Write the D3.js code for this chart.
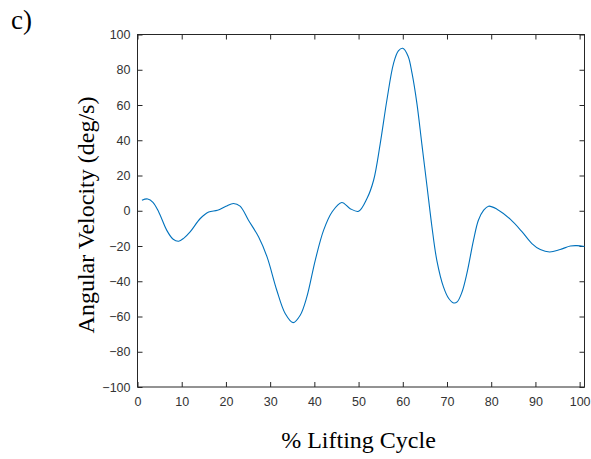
<!DOCTYPE html>
<html>
<head>
<meta charset="utf-8">
<script src="https://cdn.jsdelivr.net/npm/d3@7"></script>
<style>
  body { margin: 0; background: #fff; }
</style>
</head>
<body>
<div id="chart"></div>
<script>
const WIDTH = 591;
const HEIGHT = 459;
const MARGIN = { TOP: 34.5, BOTTOM: 72, LEFT: 137.5, RIGHT: 6.5 };

const width = WIDTH - MARGIN.LEFT - MARGIN.RIGHT;
const height = HEIGHT - MARGIN.TOP - MARGIN.BOTTOM;

// % lifting cycle and angular velocity (deg/s)
const cycle = [1, 2.3, 3.5, 4.8, 6.6, 8, 9.3, 10.5, 11.9, 14.2, 16.1, 18.1, 20, 21.7, 23.2,
  25.1, 27.4, 29.3, 31.5, 33.4, 35.2, 36.8, 38.3, 40.2, 42.1, 44, 46.2, 48.1, 50,
  51.9, 53.4, 54.9, 56.4, 57.9, 59, 60, 61.2, 62.1, 63.2, 64.3, 65.5, 66.6, 67.7,
  69.2, 70.4, 71.5, 72.3, 73.4, 74.5, 76, 77.1, 78.3, 79.4, 81.3, 84.3, 87, 89.2,
  91.1, 93.2, 95.6, 97.9, 99.4, 101.1];
const velocity = [6, 6.7, 4.8, -0.7, -11, -16, -17.3, -15.5, -12, -4.4, -0.7, 0.3, 2.5, 4.1, 2.6,
  -5.4, -14.9, -26.2, -45.1, -58.3, -63.5, -59.3, -48.9, -28.1, -11, -0.7, 4.7, 1.2, -0.3,
  6.9, 17.3, 38.1, 62.7, 83.5, 90.7, 92.2, 87.7, 77.9, 60.8, 38.1, 13.5, -9.2, -28.1,
  -43.2, -49.8, -52.3, -51.7, -46.1, -35.6, -16.7, -5.4, 0.3, 2.6, 0.9, -4.8, -12, -18.6,
  -22, -23.4, -22, -20, -19.8, -20.3];

const xTicks = [0, 10, 20, 30, 40, 50, 60, 70, 80, 90, 100];
const yTicks = [-100, -80, -60, -40, -20, 0, 20, 40, 60, 80, 100];

const data = cycle.map((c, i) => ({ x: c, y: velocity[i] }));

const svg = d3.select('#chart')
  .append('svg')
    .attr('width', WIDTH)
    .attr('height', HEIGHT);

const container = svg.append('g')
    .attr('transform', `translate(${MARGIN.LEFT}, ${MARGIN.TOP})`);

const x = d3.scaleLinear().domain([0, 101.1]).range([0, width]);
const y = d3.scaleLinear().domain([-100, 100]).range([height, 0]);

const axisColour = '#262626';
const tickFont = '"Liberation Sans", Arial, sans-serif';

function styleAxis(g) {
  g.select('.domain').remove();
  g.selectAll('line').attr('stroke', axisColour);
  g.selectAll('text')
    .attr('fill', '#333')
    .style('font-family', tickFont)
    .style('font-size', '12.5px');
}

// bottom and left axes with labels, ticks pointing inward
container.append('g')
  .attr('transform', `translate(0, ${height})`)
  .call(d3.axisBottom(x).tickValues(xTicks).tickSizeInner(-5).tickSizeOuter(0).tickPadding(10))
  .call(styleAxis);

container.append('g')
  .call(d3.axisLeft(y).tickValues(yTicks).tickSizeInner(-5).tickSizeOuter(0).tickPadding(7))
  .call(styleAxis);

// top and right: ticks only
container.append('g')
  .call(d3.axisTop(x).tickValues(xTicks).tickSizeInner(-5).tickSizeOuter(0).tickFormat(''))
  .call(styleAxis);

container.append('g')
  .attr('transform', `translate(${width}, 0)`)
  .call(d3.axisRight(y).tickValues(yTicks).tickSizeInner(-5).tickSizeOuter(0).tickFormat(''))
  .call(styleAxis);

// box
container.append('rect')
  .attr('width', width)
  .attr('height', height)
  .attr('fill', 'none')
  .attr('stroke', axisColour)
  .attr('stroke-width', 1);

// the curve
const line = d3.line()
  .x(d => x(d.x))
  .y(d => y(d.y))
  .curve(d3.curveCatmullRom.alpha(0.5));

container.append('path')
  .datum(data)
  .attr('d', line)
  .attr('fill', 'none')
  .attr('stroke', '#0072BD')
  .attr('stroke-width', 1.1);

// axis titles
const serif = '"Liberation Serif", "Times New Roman", serif';

svg.append('text')
  .attr('x', 358.5)
  .attr('y', 448)
  .attr('text-anchor', 'middle')
  .style('font-family', serif)
  .style('font-size', '24px')
  .attr('fill', '#000')
  .text('% Lifting Cycle');

svg.append('text')
  .attr('transform', 'translate(93.5, 215) rotate(-90)')
  .attr('text-anchor', 'middle')
  .style('font-family', serif)
  .style('font-size', '24px')
  .attr('fill', '#000')
  .text('Angular Velocity (deg/s)');

svg.append('text')
  .attr('x', 11)
  .attr('y', 29)
  .style('font-family', serif)
  .style('font-size', '27px')
  .attr('fill', '#000')
  .text('c)');
</script>
</body>
</html>
